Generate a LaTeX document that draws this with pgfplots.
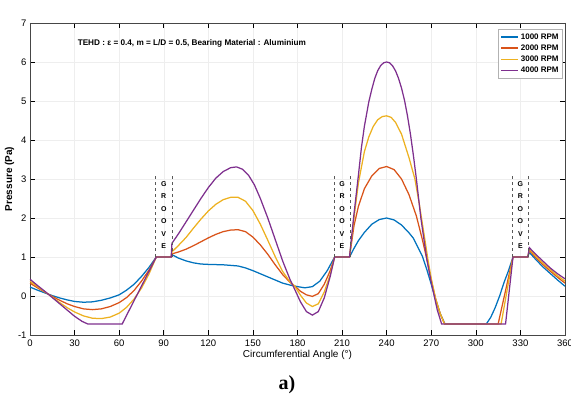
\documentclass[border=0pt]{standalone}
\usepackage{pgfplots}
\pgfplotsset{compat=1.18}
\usepackage{fontspec}
\setmainfont{Liberation Sans}
\newfontfamily\serifbf{Liberation Serif}
\definecolor{mblue}{rgb}{0,0.447,0.741}
\definecolor{morange}{rgb}{0.85,0.325,0.098}
\definecolor{myellow}{rgb}{0.929,0.694,0.125}
\definecolor{mpurple}{rgb}{0.494,0.184,0.556}
\begin{document}
\begin{tikzpicture}
\useasboundingbox (-30pt,-71pt) rectangle (541pt,335pt);
\begin{axis}[
  scale only axis, width=535pt, height=312pt,
  at={(0pt,0pt)}, anchor=south west,
  xmin=0, xmax=360, ymin=-1, ymax=7,
  xtick={0,30,...,360}, ytick={-1,0,...,7},
  grid=major, major grid style={gray!13, line width=0.4pt},
  tick align=inside, major tick length=5pt,
  axis line style={gray!55!black, line width=0.5pt},
  every tick/.style={black, line width=0.5pt},
  /pgf/number format/assume math mode=true,
  tick label style={font=\fontsize{9.5}{11}\selectfont},
  xticklabel style={yshift=-1pt},
  xlabel={Circumferential Angle (°)},
  ylabel={\bfseries Pressure (Pa)},
  label style={font=\fontsize{10}{12}\selectfont},
  xlabel style={yshift=3pt},
  ylabel style={yshift=-3pt},
  legend style={at={(rel axis cs:0.996,0.98)}, anchor=north east,
    font=\bfseries\fontsize{8}{9.5}\selectfont, draw=gray!60, inner sep=2pt,
    row sep=0pt, fill=white},
  legend cell align=left,
  legend image code/.code={\draw[#1] (0cm,0cm) -- (0.6cm,0cm);},
  every axis plot/.append style={line width=1.25pt},
]
\addplot[mblue] coordinates {(0,0.23)(5,0.15)(10,0.08)(15,0.01)(20,-0.05)(25,-0.10)(30,-0.14)(36,-0.16)(42,-0.15)(48,-0.11)(54,-0.05)(60,0.03)(65,0.15)(70,0.30)(75,0.50)(80,0.73)(85,1.0)(95,1.0)(96,1.05)(100,0.97)(105,0.90)(110,0.85)(115,0.82)(120,0.81)(130,0.80)(140,0.77)(145,0.72)(150,0.65)(155,0.57)(160,0.49)(165,0.41)(170,0.33)(175,0.28)(180,0.24)(185,0.21)(190,0.24)(195,0.38)(200,0.65)(205,1.0)(215,1.0)(218,1.22)(221,1.42)(225,1.63)(230,1.84)(235,1.96)(240,2.0)(245,1.95)(250,1.82)(255,1.62)(258,1.48)(261,1.25)(264,1.02)(267,0.68)(270,0.30)(273,-0.10)(276,-0.45)(279,-0.70)(280,-0.72)(307,-0.72)(310,-0.55)(313,-0.3)(316,0.0)(319,0.35)(322,0.65)(325,1.0)(335,1.0)(336,1.12)(340,0.95)(345,0.75)(350,0.58)(355,0.41)(360,0.25)};
\addlegendentry{1000 RPM}
\addplot[morange] coordinates {(0,0.33)(5,0.21)(10,0.10)(15,-0.01)(20,-0.11)(25,-0.20)(30,-0.27)(36,-0.33)(42,-0.35)(48,-0.33)(54,-0.27)(60,-0.17)(65,-0.04)(70,0.14)(75,0.38)(80,0.66)(85,1.0)(95,1.0)(95.5,1.08)(100,1.13)(105,1.2)(110,1.29)(115,1.39)(120,1.49)(125,1.58)(130,1.65)(135,1.69)(140,1.70)(145,1.65)(150,1.51)(155,1.31)(160,1.07)(165,0.80)(170,0.55)(175,0.35)(178,0.26)(182,0.12)(186,0.03)(190,-0.01)(194,0.06)(198,0.30)(202,0.65)(205,1.0)(215,1.0)(218,1.8)(221,2.3)(225,2.75)(230,3.08)(235,3.27)(240,3.32)(245,3.24)(250,3.0)(255,2.6)(260,2.05)(264,1.45)(267,0.95)(270,0.40)(273,-0.08)(276,-0.45)(279,-0.72)(315,-0.72)(325,1.0)(335,1.0)(336,1.17)(340,1.0)(345,0.81)(350,0.64)(355,0.48)(360,0.33)};
\addlegendentry{2000 RPM}
\addplot[myellow] coordinates {(0,0.38)(5,0.24)(10,0.11)(15,-0.03)(20,-0.17)(25,-0.30)(30,-0.41)(36,-0.51)(42,-0.57)(48,-0.58)(54,-0.54)(60,-0.44)(65,-0.29)(70,-0.08)(75,0.20)(80,0.56)(85,1.0)(95,1.0)(95.5,1.13)(100,1.3)(105,1.5)(110,1.74)(115,1.97)(120,2.18)(125,2.35)(130,2.47)(135,2.53)(140,2.53)(145,2.43)(150,2.19)(155,1.84)(160,1.43)(165,1.01)(170,0.63)(175,0.36)(178,0.26)(182,0.02)(186,-0.18)(190,-0.27)(194,-0.2)(198,0.1)(202,0.55)(205,1.0)(215,1.0)(218,2.0)(221,2.9)(225,3.7)(228,4.08)(231,4.35)(234,4.52)(237,4.6)(240,4.62)(243,4.58)(246,4.45)(250,4.15)(255,3.55)(259,3.0)(262,2.35)(265,1.62)(268,0.88)(270,0.45)(273,-0.08)(276,-0.45)(279,-0.72)(317,-0.72)(325,1.0)(335,1.0)(336,1.2)(340,1.04)(345,0.85)(350,0.68)(355,0.52)(360,0.38)};
\addlegendentry{3000 RPM}
\addplot[mpurple] coordinates {(0,0.43)(5,0.27)(10,0.12)(15,-0.04)(20,-0.20)(25,-0.36)(30,-0.52)(35,-0.65)(39,-0.72)(62,-0.72)(85,1.0)(95,1.0)(95.5,1.35)(100,1.6)(105,1.9)(110,2.2)(115,2.5)(120,2.78)(125,3.02)(130,3.19)(135,3.29)(139,3.31)(143,3.25)(147,3.10)(151,2.85)(155,2.5)(160,2.0)(165,1.45)(170,0.9)(175,0.42)(178,0.18)(182,-0.15)(186,-0.40)(190,-0.49)(194,-0.40)(198,-0.05)(202,0.5)(205,1.0)(215,1.0)(218,2.1)(221,3.1)(223,3.8)(225,4.35)(228,4.98)(230,5.3)(232,5.58)(234,5.78)(236,5.91)(238,5.98)(240,6.0)(242,5.98)(244,5.9)(246,5.77)(248,5.58)(250,5.33)(252,5.02)(254,4.62)(256,4.15)(258,3.6)(260,3.0)(263,2.0)(267,0.95)(270,0.35)(272,0.0)(274,-0.35)(277,-0.72)(320,-0.72)(325,1.0)(335,1.0)(336,1.24)(340,1.08)(345,0.9)(350,0.72)(355,0.57)(360,0.44)};
\addlegendentry{4000 RPM}
% groove markers
\addplot[forget plot, gray!70!black, dashed, line width=0.5pt] coordinates {(84.5,1)(84.5,3.1)};
\addplot[forget plot, gray!70!black, dashed, line width=0.5pt] coordinates {(95.5,1)(95.5,3.1)};
\addplot[forget plot, gray!70!black, dashed, line width=0.5pt] coordinates {(204.5,1)(204.5,3.1)};
\addplot[forget plot, gray!70!black, dashed, line width=0.5pt] coordinates {(215.5,1)(215.5,3.1)};
\addplot[forget plot, gray!70!black, dashed, line width=0.5pt] coordinates {(324.5,1)(324.5,3.1)};
\addplot[forget plot, gray!70!black, dashed, line width=0.5pt] coordinates {(335.5,1)(335.5,3.1)};
\node[font=\bfseries\fontsize{7}{12.5}\selectfont, align=center, anchor=north, inner sep=0pt]
    at (axis cs:90,2.95) {G\\R\\O\\O\\V\\E};
\node[font=\bfseries\fontsize{7}{12.5}\selectfont, align=center, anchor=north, inner sep=0pt]
    at (axis cs:210,2.95) {G\\R\\O\\O\\V\\E};
\node[font=\bfseries\fontsize{7}{12.5}\selectfont, align=center, anchor=north, inner sep=0pt]
    at (axis cs:330,2.95) {G\\R\\O\\O\\V\\E};
\node[font=\bfseries\fontsize{8.2}{10}\selectfont, anchor=west, inner sep=0pt] at (axis cs:32,6.48)
  {TEHD : ε = 0.4, m = L/D = 0.5, Bearing Material : Aluminium};
\node[font=\fontsize{7.5}{9}\selectfont, anchor=south west, inner sep=1pt] at (rel axis cs:0,1) {×10\textsuperscript{5}};
\end{axis}
\node[font=\serifbf\bfseries\fontsize{20}{24}\selectfont] at (257pt,-50pt) {a)};
\end{tikzpicture}
\end{document}
